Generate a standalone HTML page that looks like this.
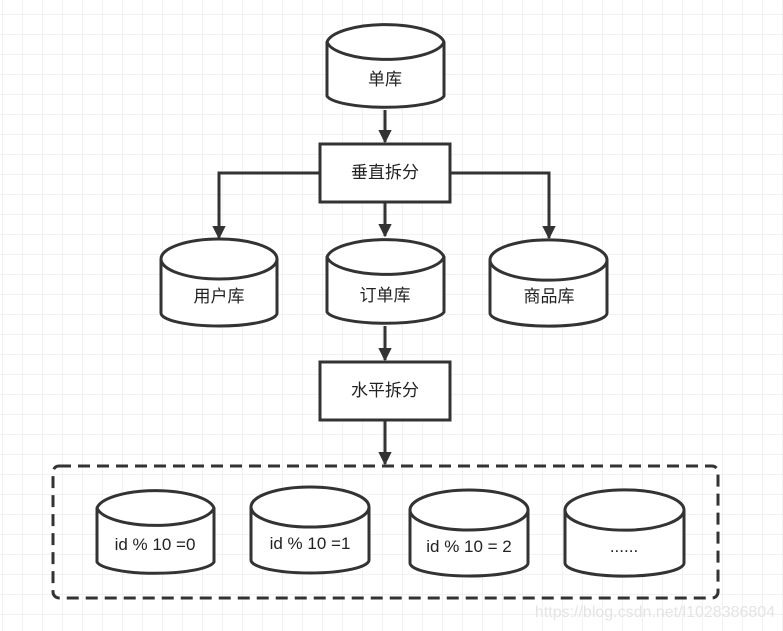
<!DOCTYPE html>
<html><head><meta charset="utf-8"><style>
html,body{margin:0;padding:0;background:#fff;}
svg{display:block;}
text{font-family:"Liberation Sans","Noto Sans CJK SC",sans-serif;font-size:17px;fill:#222;text-anchor:middle;}
</style></head><body>
<svg width="783" height="631" viewBox="0 0 783 631" xmlns="http://www.w3.org/2000/svg">
<defs>
<pattern id="g" x="2" y="14" width="20" height="20" patternUnits="userSpaceOnUse">
<path d="M0 0H20M0 0V20" stroke="#e4e4e4" stroke-width="1" fill="none"/>
</pattern>
<marker id="a" viewBox="0 0 10 10" refX="9" refY="5" markerWidth="4.5" markerHeight="4.5" orient="auto">
<path d="M0 0L10 5L0 10Z" fill="#333"/>
</marker>
</defs>
<rect width="783" height="631" fill="url(#g)"/>
<g stroke="#333" stroke-width="3" fill="#fff">
<path d="M327 42 A59 20 0 0 1 444 42 V96 A59 13 0 0 1 327 96 Z"/><path d="M327 42 A59 20 0 0 0 444 42" fill="none"/>
<path d="M161 259 A58 20 0 0 1 277 259 V313 A58 13 0 0 1 161 313 Z"/><path d="M161 259 A58 20 0 0 0 277 259" fill="none"/>
<path d="M327 257 A59 20 0 0 1 444 257 V312 A59 13 0 0 1 327 312 Z"/><path d="M327 257 A59 20 0 0 0 444 257" fill="none"/>
<path d="M490 260 A58 20 0 0 1 607 260 V313 A58 13 0 0 1 490 313 Z"/><path d="M490 260 A58 20 0 0 0 607 260" fill="none"/>
<path d="M97 508 A59 20 0 0 1 214 508 V562 A59 13 0 0 1 97 562 Z"/><path d="M97 508 A59 20 0 0 0 214 508" fill="none"/>
<path d="M251 507 A59 20 0 0 1 369 507 V560 A59 13 0 0 1 251 560 Z"/><path d="M251 507 A59 20 0 0 0 369 507" fill="none"/>
<path d="M410 510 A59 20 0 0 1 528 510 V563 A59 13 0 0 1 410 563 Z"/><path d="M410 510 A59 20 0 0 0 528 510" fill="none"/>
<path d="M565 510 A59 20 0 0 1 684 510 V563 A59 13 0 0 1 565 563 Z"/><path d="M565 510 A59 20 0 0 0 684 510" fill="none"/>
<rect x="320" y="144" width="130" height="58"/>
<rect x="320" y="362" width="130" height="58"/>
<rect x="53" y="466" width="665" height="132" rx="6" fill="none" stroke-dasharray="12 7"/>
</g>
<g stroke="#333" stroke-width="3" fill="none" marker-end="url(#a)">
<path d="M385 110 V142"/>
<path d="M320 173 H219 V238"/>
<path d="M450 173 H549 V238"/>
<path d="M385 202 V236"/>
<path d="M385 326 V360"/>
<path d="M385 420 V464"/>
</g>
<text x="385" y="85">单库</text>
<text x="385" y="178">垂直拆分</text>
<text x="219" y="302">用户库</text>
<text x="385" y="301">订单库</text>
<text x="549" y="302">商品库</text>
<text x="385" y="396">水平拆分</text>
<text x="155" y="550">id % 10 =0</text>
<text x="310" y="549">id % 10 =1</text>
<text x="469" y="552">id % 10 = 2</text>
<text x="624" y="552">......</text>
<text x="655" y="617" style="fill:#e4e4e4;font-size:16px">https://blog.csdn.net/l1028386804</text>
</svg>
</body></html>
